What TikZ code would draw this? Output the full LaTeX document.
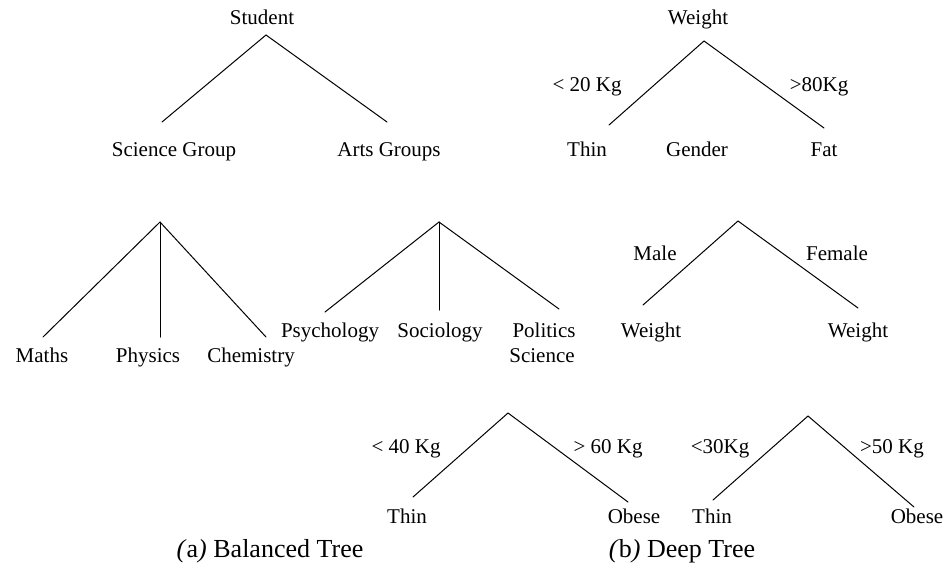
\documentclass[tikz,border=0pt]{standalone}
\usepackage{fontspec}
\setmainfont{Liberation Serif}
\begin{document}
\begin{tikzpicture}[x=1pt,y=-1pt,
  lbl/.style={anchor=base,inner sep=0pt,font=\fontsize{21}{25}\selectfont},
  captext/.style={anchor=base,inner sep=0pt,font=\fontsize{26}{30}\selectfont},
  branch/.style={line width=1pt,line cap=round}]
\useasboundingbox (0,0) rectangle (949,574);

% ---------- (a) Balanced tree ----------
\node[lbl] (student) at (262,24) {Student};
\coordinate (sA) at (266,35);
\coordinate (sL) at (162,122);
\coordinate (sR) at (387,122);
\draw[branch] (sL) -- (sA) -- (sR);
\node[lbl] (science) at (174,156) {Science Group};
\node[lbl] (arts) at (389,156) {Arts Groups};

\coordinate (gA) at (160,222);
\coordinate (gL) at (43,337);
\coordinate (gM) at (160,337);
\coordinate (gR) at (266,337);
\draw[branch] (gL) -- (gA) -- (gR);
\draw[branch] (gA) -- (gM);
\node[lbl] (maths) at (42,362) {Maths};
\node[lbl] (physics) at (148,362) {Physics};
\node[lbl] (chem) at (251,362) {Chemistry};

\coordinate (aA) at (439,222);
\coordinate (aL) at (325,312);
\coordinate (aM) at (439,310);
\coordinate (aR) at (559,309);
\draw[branch] (aL) -- (aA) -- (aR);
\draw[branch] (aA) -- (aM);
\node[lbl] (psy) at (330,337) {Psychology};
\node[lbl] (soc) at (440,337) {Sociology};
\node[lbl] (pol) at (544,337) {Politics};
\node[lbl] (polsci) at (542,362) {Science};

\node[captext] (capA) at (270,557) {\textit{(}a\textit{)} Balanced Tree};

% ---------- (b) Deep tree ----------
\node[lbl] (weight) at (698,24) {Weight};
\coordinate (wA) at (704,41);
\coordinate (wL) at (609,125);
\coordinate (wR) at (824,128);
\draw[branch] (wL) -- (wA) -- (wR);
\node[lbl] (lt20) at (587,91) {< 20 Kg};
\node[lbl] (gt80) at (819,91) {>80Kg};
\node[lbl] (thin1) at (587,156) {Thin};
\node[lbl] (gender) at (697,156) {Gender};
\node[lbl] (fat) at (824,156) {Fat};

\coordinate (mA) at (738,221);
\coordinate (mL) at (643,305);
\coordinate (mR) at (858,308);
\draw[branch] (mL) -- (mA) -- (mR);
\node[lbl] (male) at (655,260) {Male};
\node[lbl] (female) at (837,260) {Female};
\node[lbl] (wmale) at (651,337) {Weight};
\node[lbl] (wfemale) at (858,337) {Weight};

\coordinate (pA) at (508,413);
\coordinate (pL) at (413,497);
\coordinate (pR) at (628,502);
\draw[branch] (pL) -- (pA) -- (pR);
\node[lbl] (lt40) at (406,453) {< 40 Kg};
\node[lbl] (gt60) at (608,453) {> 60 Kg};
\node[lbl] (thin2) at (407,523) {Thin};
\node[lbl] (obese2) at (634,523) {Obese};

\coordinate (qA) at (808,416);
\coordinate (qL) at (713,500);
\coordinate (qR) at (914,507);
\draw[branch] (qL) -- (qA) -- (qR);
\node[lbl] (lt30) at (720,453) {<30Kg};
\node[lbl] (gt50) at (892,453) {>50 Kg};
\node[lbl] (thin3) at (712,523) {Thin};
\node[lbl] (obese3) at (917,523) {Obese};

\node[captext] (capB) at (682,557) {\textit{(}b\textit{)} Deep Tree};
\end{tikzpicture}
\end{document}
